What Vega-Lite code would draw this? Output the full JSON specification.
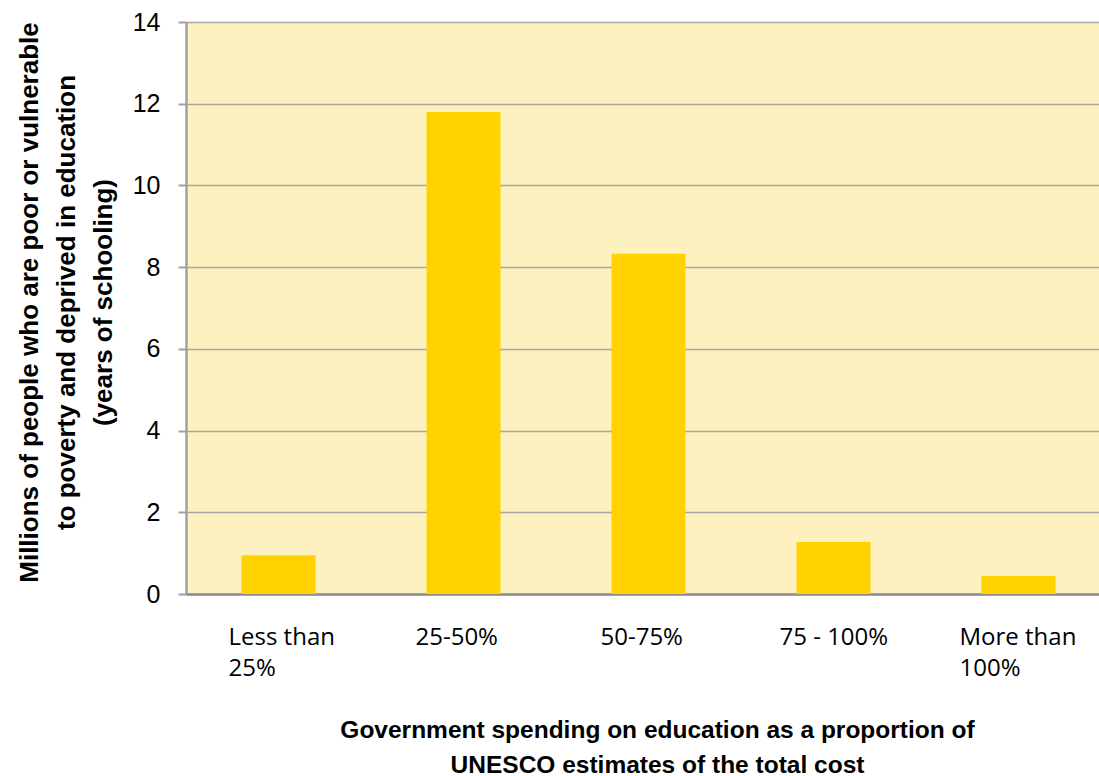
{
  "$schema": "https://vega.github.io/schema/vega-lite/v6.json",
  "autosize": "none",
  "padding": {"left": 186, "top": 22, "right": 0, "bottom": 182},
  "width": 913,
  "height": 572,
  "background": "white",
  "view": {"fill": "#FEF1C0", "stroke": null},
  "data": {
    "values": [
      {"category": "Less than 25%", "value": 0.95},
      {"category": "25-50%", "value": 11.8},
      {"category": "50-75%", "value": 8.33},
      {"category": "75 - 100%", "value": 1.27},
      {"category": "More than 100%", "value": 0.44}
    ]
  },
  "mark": {"type": "bar", "color": "#FFD200"},
  "encoding": {
    "x": {
      "field": "category",
      "type": "nominal",
      "sort": null,
      "scale": {"range": [0, 925], "paddingInner": 0.6, "paddingOuter": 0.3},
      "axis": {
        "title": ["Government spending on education as a proportion of", "UNESCO estimates of the total cost"],
        "titleFont": "Liberation Sans",
        "titleFontSize": 24.5,
        "titleFontWeight": "bold",
        "titleColor": "black",
        "titleLineHeight": 35,
        "titleX": 471,
        "titleY": 124,
        "titleBaseline": "top",
        "titleAlign": "center",
        "labelAngle": 0,
        "labelFont": "Open Sans",
        "labelFontSize": 24,
        "labelColor": "black",
        "labelLineHeight": 31,
        "labelBaseline": "top",
        "labelAlign": "left",
        "labelPadding": 31,
        "labelOffset": {"expr": "datum.value == 'Less than 25%' ? -50 : datum.value == '25-50%' ? -48 : datum.value == '50-75%' ? -48 : datum.value == '75 - 100%' ? -54 : -59"},
        "labelExpr": "datum.value == 'Less than 25%' ? ['Less than', '25%'] : datum.value == 'More than 100%' ? ['More than', '100%'] : datum.value",
        "ticks": false,
        "domain": true,
        "domainColor": "#8C8C8C",
        "domainWidth": 2.5
      }
    },
    "y": {
      "field": "value",
      "type": "quantitative",
      "scale": {"domain": [0, 14], "nice": false},
      "axis": {
        "values": [0, 2, 4, 6, 8, 10, 12, 14],
        "title": ["Millions of people who are poor or vulnerable", "to poverty and deprived in education", "(years of schooling)"],
        "titleFont": "Liberation Sans",
        "titleFontSize": 26,
        "titleFontWeight": "bold",
        "titleColor": "black",
        "titleLineHeight": 37,
        "titleAngle": -90,
        "titleBaseline": "top",
        "titleAlign": "center",
        "titleX": -170,
        "titleY": 280,
        "labelFont": "Liberation Sans",
        "labelFontSize": 25,
        "labelColor": "black",
        "labelPadding": 18,
        "tickSize": 8,
        "tickColor": "#A0A0A0",
        "tickWidth": 2,
        "domainColor": "#A0A0A0",
        "domainWidth": 2.5,
        "grid": true,
        "gridColor": "#A8A8A8",
        "gridWidth": 1.5
      }
    }
  }
}
